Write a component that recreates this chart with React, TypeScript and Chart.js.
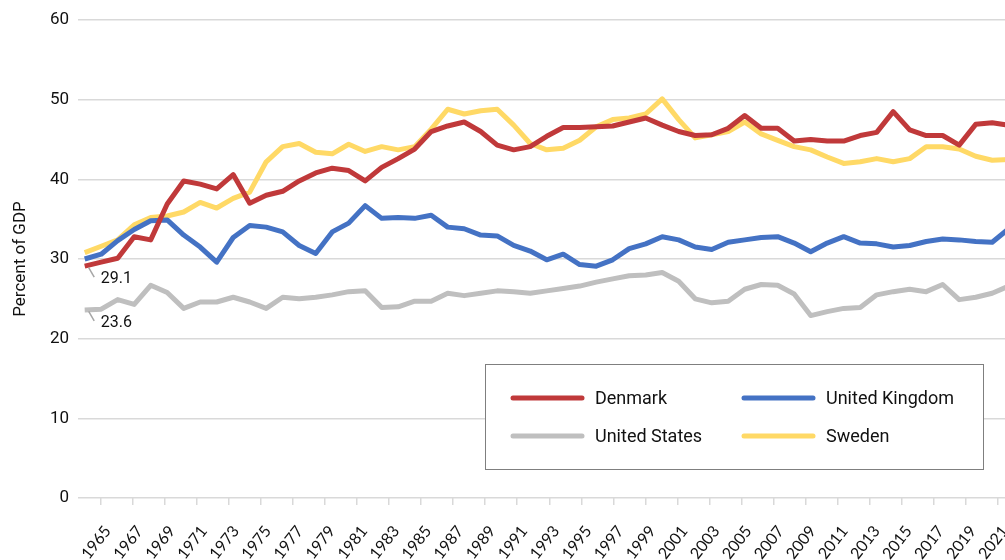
import React, { useEffect, useRef } from "react";
import { Chart, registerables } from "chart.js";

Chart.register(...registerables);

const YEARS = [
  1965, 1966, 1967, 1968, 1969, 1970, 1971, 1972, 1973, 1974,
  1975, 1976, 1977, 1978, 1979, 1980, 1981, 1982, 1983, 1984,
  1985, 1986, 1987, 1988, 1989, 1990, 1991, 1992, 1993, 1994,
  1995, 1996, 1997, 1998, 1999, 2000, 2001, 2002, 2003, 2004,
  2005, 2006, 2007, 2008, 2009, 2010, 2011, 2012, 2013, 2014,
  2015, 2016, 2017, 2018, 2019, 2020, 2021,
];

const TICK_YEARS = [
  1965, 1967, 1969, 1971, 1973, 1975, 1977, 1979, 1981, 1983,
  1985, 1987, 1989, 1991, 1993, 1995, 1997, 1999, 2001, 2003,
  2005, 2007, 2009, 2011, 2013, 2015, 2017, 2019, 2021,
];

const DENMARK = [
  29.1, 29.6, 30.1, 32.8, 32.4, 36.9, 39.8, 39.4, 38.8, 40.6,
  37.0, 38.0, 38.5, 39.8, 40.8, 41.4, 41.1, 39.8, 41.5, 42.6,
  43.8, 46.0, 46.7, 47.2, 46.0, 44.3, 43.7, 44.1, 45.4, 46.5,
  46.5, 46.6, 46.7, 47.2, 47.7, 46.8, 46.0, 45.5, 45.6, 46.4,
  48.0, 46.4, 46.4, 44.8, 45.0, 44.8, 44.8, 45.5, 45.9, 48.5,
  46.2, 45.5, 45.5, 44.3, 46.9, 47.1, 46.8,
];

const UNITED_KINGDOM = [
  30.0, 30.6, 32.3, 33.7, 34.8, 34.9, 33.0, 31.5, 29.6, 32.7,
  34.2, 34.0, 33.4, 31.7, 30.7, 33.4, 34.5, 36.7, 35.1, 35.2,
  35.1, 35.5, 34.0, 33.8, 33.0, 32.9, 31.7, 31.0, 29.9, 30.6,
  29.3, 29.1, 29.9, 31.3, 31.9, 32.8, 32.4, 31.5, 31.2, 32.1,
  32.4, 32.7, 32.8, 32.0, 30.9, 32.0, 32.8, 32.0, 31.9, 31.5,
  31.7, 32.2, 32.5, 32.4, 32.2, 32.1, 33.8,
];

const UNITED_STATES = [
  23.6, 23.7, 24.9, 24.3, 26.7, 25.8, 23.8, 24.6, 24.6, 25.2,
  24.6, 23.8, 25.2, 25.0, 25.2, 25.5, 25.9, 26.0, 23.9, 24.0,
  24.7, 24.7, 25.7, 25.4, 25.7, 26.0, 25.9, 25.7, 26.0, 26.3,
  26.6, 27.1, 27.5, 27.9, 28.0, 28.3, 27.2, 25.0, 24.5, 24.7,
  26.2, 26.8, 26.7, 25.6, 22.9, 23.4, 23.8, 23.9, 25.5, 25.9,
  26.2, 25.9, 26.8, 24.9, 25.2, 25.7, 26.6,
];

const SWEDEN = [
  30.8, 31.6, 32.4, 34.3, 35.2, 35.4, 35.9, 37.1, 36.4, 37.6,
  38.4, 42.2, 44.1, 44.5, 43.4, 43.2, 44.4, 43.5, 44.1, 43.7,
  44.1, 46.3, 48.8, 48.2, 48.6, 48.8, 46.8, 44.5, 43.7, 43.9,
  44.9, 46.6, 47.5, 47.7, 48.2, 50.1, 47.5, 45.2, 45.6, 46.0,
  47.2, 45.7, 44.9, 44.1, 43.7, 42.8, 42.0, 42.2, 42.6, 42.2,
  42.6, 44.1, 44.1, 43.8, 42.9, 42.4, 42.5,
];

const SERIES_NAMES = ["Denmark", "United Kingdom", "United States", "Sweden"];
const SERIES_VALUES = [DENMARK, UNITED_KINGDOM, UNITED_STATES, SWEDEN];
const SERIES_COLORS = ["#c0393a", "#4472c4", "#bfbfbf", "#ffd966"];
const ANNOTATED = [true, false, true, false];

const CANVAS_W = 1040;
const CANVAS_H = 600;

const boxLegend = {
  id: "boxLegend",
  afterDraw(chart: any, _args: any, opts: any) {
    const ctx = chart.ctx;
    ctx.save();
    ctx.fillStyle = "#ffffff";
    ctx.fillRect(opts.x, opts.y, opts.w, opts.h);
    ctx.strokeStyle = "#7f7f7f";
    ctx.lineWidth = 1;
    ctx.strokeRect(opts.x + 0.5, opts.y + 0.5, opts.w, opts.h);
    chart.data.datasets.forEach((ds: any, i: number) => {
      const col = i % 2;
      const row = Math.floor(i / 2);
      const lx = opts.x + opts.colX[col];
      const ly = opts.y + opts.rowY[row];
      ctx.strokeStyle = ds.borderColor;
      ctx.lineWidth = 5;
      ctx.lineCap = "round";
      ctx.beginPath();
      ctx.moveTo(lx, ly);
      ctx.lineTo(lx + opts.lineLen, ly);
      ctx.stroke();
      ctx.fillStyle = "#111";
      ctx.font = "18px Roboto";
      ctx.textBaseline = "middle";
      ctx.textAlign = "left";
      ctx.fillText(ds.label, lx + opts.lineLen + opts.gap, ly + 1);
    });
    ctx.restore();
  },
};

const startLabels = {
  id: "startLabels",
  afterDatasetsDraw(chart: any) {
    const ctx = chart.ctx;
    ctx.save();
    chart.data.datasets.forEach((ds: any, i: number) => {
      if (!ANNOTATED[i]) return;
      const pt = chart.getDatasetMeta(i).data[0];
      if (!pt) return;
      const x = pt.x;
      const y = pt.y;
      ctx.strokeStyle = "#a6a6a6";
      ctx.lineWidth = 1.5;
      ctx.beginPath();
      ctx.moveTo(x + 4, y + 1.5);
      ctx.lineTo(x + 9.5, y + 11);
      ctx.stroke();
      ctx.fillStyle = "#111";
      ctx.font = "16px Roboto";
      ctx.textAlign = "left";
      ctx.textBaseline = "middle";
      ctx.fillText(ds.data[0].y.toFixed(1), x + 16, y + 13);
    });
    ctx.restore();
  },
};

export default function App() {
  const canvasRef = useRef<HTMLCanvasElement | null>(null);

  useEffect(() => {
    const canvas = canvasRef.current;
    if (!canvas) return;
    const datasets = SERIES_NAMES.map((name, i) => ({
      label: name,
      data: SERIES_VALUES[i].map((v, j) => ({ x: YEARS[j], y: v })),
      borderColor: SERIES_COLORS[i],
      backgroundColor: SERIES_COLORS[i],
      borderWidth: 5,
      pointRadius: 0,
      tension: 0,
      borderJoinStyle: "round" as const,
      xAxisID: "x",
      yAxisID: "y",
    }));

    const chart = new Chart(canvas, {
      type: "line",
      data: { datasets },
      options: {
        responsive: false,
        animation: false,
        devicePixelRatio: 1,
        layout: { padding: { top: 20, right: 20, bottom: 0, left: 0 } },
        plugins: {
          legend: { display: false },
          tooltip: { enabled: false },
          boxLegend: {
            x: 485,
            y: 364,
            w: 498,
            h: 105,
            colX: [28, 259],
            rowY: [34, 72],
            lineLen: 69,
            gap: 13,
          },
        } as any,
        scales: {
          x: {
            type: "linear",
            display: false,
            min: 1964.594,
            max: 2021.685,
          },
          x2: {
            type: "linear",
            position: "bottom",
            min: 1963.583,
            max: 2022.383,
            afterBuildTicks: (axis: any) => {
              axis.ticks = TICK_YEARS.map((v) => ({ value: v }));
            },
            afterFit: (scale: any) => {
              scale.height = CANVAS_H - 498;
            },
            grid: {
              display: true,
              drawOnChartArea: false,
              drawTicks: true,
              tickLength: 7,
              color: "#d9d9d9",
              lineWidth: 1.5,
            },
            border: { display: false },
            ticks: {
              autoSkip: false,
              minRotation: 52,
              maxRotation: 52,
              padding: 17,
              labelOffset: 7,
              color: "#111",
              font: { family: "Lato", size: 16 },
              callback: (value: any) => String(value),
            },
          },
          y: {
            type: "linear",
            min: 0,
            max: 60,
            afterFit: (scale: any) => {
              scale.width = 78;
            },
            ticks: {
              stepSize: 10,
              padding: 9,
              color: "#111",
              font: { family: "Roboto", size: 17 },
            },
            grid: {
              color: "#d9d9d9",
              lineWidth: 1.5,
              drawTicks: false,
            },
            border: { display: false },
            title: {
              display: true,
              text: "Percent of GDP",
              color: "#111",
              font: { family: "Roboto", size: 17 },
              padding: { top: 11, bottom: 11 },
            },
          },
        } as any,
      },
      plugins: [startLabels, boxLegend],
    });

    return () => chart.destroy();
  }, []);

  return (
    <div
      style={{
        position: "fixed",
        left: 0,
        top: 0,
        width: 1005,
        height: 560,
        overflow: "hidden",
        background: "#ffffff",
      }}
    >
      <canvas
        ref={canvasRef}
        width={CANVAS_W}
        height={CANVAS_H}
        style={{ display: "block", width: CANVAS_W, height: CANVAS_H }}
      />
    </div>
  );
}
